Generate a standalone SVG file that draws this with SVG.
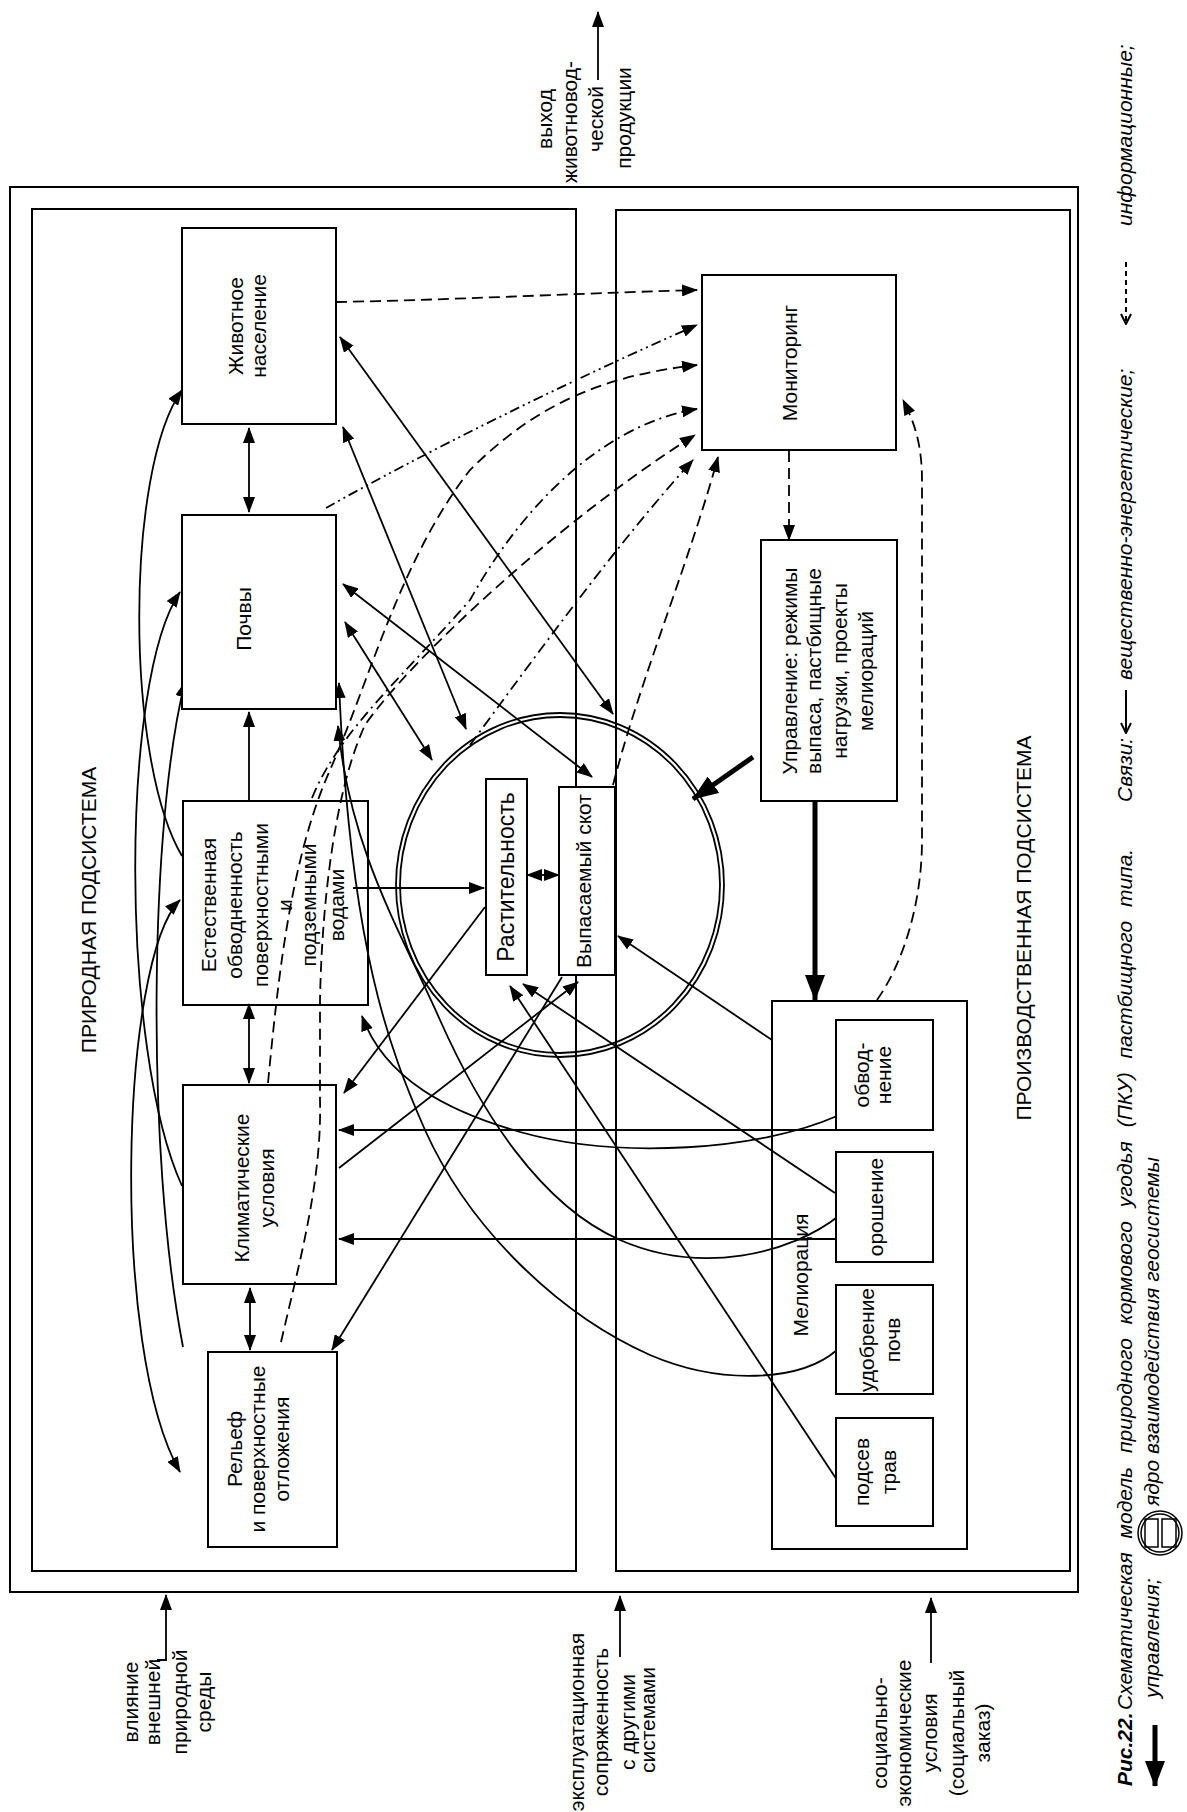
<svg xmlns="http://www.w3.org/2000/svg" width="1187" height="1812" viewBox="0 0 1187 1812">
<style>
.t{font-family:"Liberation Sans",Arial,sans-serif;font-size:21px;fill:#000}
.c{text-anchor:middle}
.s{text-anchor:start}
.i{font-style:italic}
.b{font-weight:bold}
.box{fill:#fff;stroke:#000;stroke-width:2}
.frm{fill:none;stroke:#000;stroke-width:2}
.ln{fill:none;stroke:#000;stroke-width:1.8}
.d{stroke-dasharray:11 6}
.dd{stroke-dasharray:11 5 2 5}
.ddd{stroke-dasharray:10 4 2 4 2 4}
.thick{fill:none;stroke:#000;stroke-width:5}
</style>
<defs>
<marker id="ah" viewBox="0 0 16 12" refX="15" refY="6" markerWidth="16" markerHeight="12" markerUnits="userSpaceOnUse" orient="auto-start-reverse"><path d="M0,0 L16,6 L0,12 z" fill="#000"/></marker>
<marker id="ahb" viewBox="0 0 26 20" refX="25" refY="10" markerWidth="26" markerHeight="20" markerUnits="userSpaceOnUse" orient="auto"><path d="M0,0 L26,10 L0,20 z" fill="#000"/></marker>
<marker id="av" viewBox="0 0 12 12" refX="11" refY="6" markerWidth="12" markerHeight="12" markerUnits="userSpaceOnUse" orient="auto"><path d="M1,1 L11,6 L1,11" fill="none" stroke="#000" stroke-width="2"/></marker>
</defs>
<rect width="1187" height="1812" fill="#fff"/>

<g id="frames">
<rect class="frm" x="10" y="187" width="1068" height="1405"/>
<rect class="frm" x="32" y="209" width="544" height="1362"/>
<rect class="frm" x="616" y="210" width="454" height="1361"/>
</g>

<g id="titles">
<text class="t c" x="96" y="910" transform="rotate(-90 96 910)">ПРИРОДНАЯ ПОДСИСТЕМА</text>
<text class="t c" x="1031" y="928" transform="rotate(-90 1031 928)">ПРОИЗВОДСТВЕННАЯ ПОДСИСТЕМА</text>
</g>

<g id="connectors">
<!-- vertical links between natural components -->
<path class="ln" d="M249,428 L249,512" marker-start="url(#ah)" marker-end="url(#ah)"/>
<path class="ln" d="M249,800 L249,712" marker-end="url(#ah)"/>
<path class="ln" d="M249,1004 L249,1083" marker-start="url(#ah)" marker-end="url(#ah)"/>
<path class="ln" d="M250,1288 L250,1350" marker-start="url(#ah)" marker-end="url(#ah)"/>
<!-- left arcs -->
<path class="ln" d="M182,390 C125,470 125,760 182,856" marker-start="url(#ah)"/>
<path class="ln" d="M180,592 C120,680 120,1050 182,1186" marker-start="url(#ah)"/>
<path class="ln" d="M185,682 C150,820 145,1150 183,1347" marker-start="url(#ah)"/>
<path class="ln" d="M180,900 C120,960 110,1350 180,1472" marker-start="url(#ah)" marker-end="url(#ah)"/>
<!-- links with the core -->
<path class="ln" d="M340,337 L613,714" marker-start="url(#ah)" marker-end="url(#ah)"/>
<path class="ln" d="M343,427 L466,729" marker-start="url(#ah)" marker-end="url(#ah)"/>
<path class="ln" d="M343,584 L592,777" marker-start="url(#ah)" marker-end="url(#ah)"/>
<path class="ln" d="M345,622 L432,760" marker-start="url(#ah)" marker-end="url(#ah)"/>
<path class="ln" d="M353,888 L484,888" marker-end="url(#ah)"/>
<path class="ln" d="M527,875 L559,875" marker-start="url(#ah)" marker-end="url(#ah)"/>
<path class="ln" d="M485,907 L344,1093" marker-end="url(#ah)"/>
<path class="ln" d="M339,1168 L578,982" marker-end="url(#ah)"/>
<path class="ln" d="M562,977 L332,1350" marker-end="url(#ah)"/>
<!-- from melioration -->
<path class="ln" d="M837,1130 L339,1130" marker-end="url(#ah)"/>
<path class="ln" d="M837,1239 L339,1239" marker-end="url(#ah)"/>
<path class="ln" d="M837,1480 L510,986" marker-end="url(#ah)"/>
<path class="ln" d="M835,1193 L523,984" marker-end="url(#ah)"/>
<path class="ln" d="M772,1040 L618,936" marker-end="url(#ah)"/>
<path class="ln" d="M837,1116 C760,1150 620,1160 520,1132 C450,1112 385,1080 362,1016" marker-end="url(#ah)"/>
<path class="ln" d="M840,1215 C790,1255 700,1275 620,1240 C540,1205 480,1110 440,1020 C400,930 350,850 338,726" marker-end="url(#ah)"/>
<path class="ln" d="M837,1350 C800,1382 720,1385 650,1355 C560,1315 470,1230 425,1130 C390,1050 350,950 339,683" marker-end="url(#ah)"/>
<!-- information links to monitoring -->
<path class="ln d" d="M336,302 C450,300 560,294 697,290" marker-end="url(#ah)"/>
<path class="ln ddd" d="M326,508 C420,455 560,385 697,325" marker-end="url(#ah)"/>
<path class="ln d" d="M268,1083 C278,980 290,860 330,770 C370,680 400,560 470,470 C540,400 610,375 697,365" marker-end="url(#ah)"/>
<path class="ln dd" d="M312,798 C340,730 400,680 470,600 C520,510 600,425 697,409" marker-end="url(#ah)"/>
<path class="ln d" d="M281,1342 C300,1260 322,1180 320,1100 L320,1000 C322,900 335,790 365,725 C410,660 560,520 695,435" marker-end="url(#ah)"/>
<path class="ln dd" d="M470,745 C540,650 620,540 693,460" marker-end="url(#ah)"/>
<path class="ln d" d="M613,785 C640,680 690,560 718,457" marker-end="url(#ah)"/>
<path class="ln d" d="M877,1000 C905,960 922,900 922,840 L922,480 C922,440 912,418 903,400" marker-end="url(#ah)"/>
<path class="ln d" d="M789,451 L789,540" marker-end="url(#ah)"/>
<!-- control links -->
<path class="thick" d="M753,757 L693,799" marker-end="url(#ahb)"/>
<path class="thick" d="M815,801 L815,1000" marker-end="url(#ahb)"/>
</g>

<g id="core">
<ellipse cx="560" cy="885" rx="164" ry="172" fill="none" stroke="#000" stroke-width="1.8"/>
<ellipse cx="560" cy="885" rx="160" ry="168" fill="none" stroke="#000" stroke-width="1.8"/>
</g>

<g id="n-zhivotnoe">
<rect class="box" x="182" y="228" width="154" height="196"/>
<text class="t c" x="243" y="326" transform="rotate(-90 243 326)">Животное</text>
<text class="t c" x="266" y="326" transform="rotate(-90 266 326)">население</text>
</g>
<g id="n-pochvy">
<rect class="box" x="182" y="515" width="154" height="194"/>
<text class="t c" x="251" y="619" transform="rotate(-90 251 619)">Почвы</text>
</g>
<g id="n-obvodnennost">
<rect class="box" x="183" y="801" width="185" height="204" fill-opacity="0"/>
<text class="t c" x="216" y="905" transform="rotate(-90 216 905)">Естественная</text>
<text class="t c" x="242" y="905" transform="rotate(-90 242 905)">обводненность</text>
<text class="t c" x="268" y="905" transform="rotate(-90 268 905)">поверхностными</text>
<text class="t c" x="292" y="905" transform="rotate(-90 292 905)">и</text>
<text class="t c" x="316" y="905" transform="rotate(-90 316 905)">подземными</text>
<text class="t c" x="344" y="905" transform="rotate(-90 344 905)">водами</text>
</g>
<g id="n-klimat">
<rect class="box" x="183" y="1085" width="153" height="199" fill-opacity="0"/>
<text class="t c" x="249" y="1188" transform="rotate(-90 249 1188)">Климатические</text>
<text class="t c" x="274" y="1188" transform="rotate(-90 274 1188)">условия</text>
</g>
<g id="n-relief">
<rect class="box" x="208" y="1352" width="129" height="195"/>
<text class="t c" x="242" y="1449" transform="rotate(-90 242 1449)">Рельеф</text>
<text class="t c" x="265" y="1449" transform="rotate(-90 265 1449)">и поверхностные</text>
<text class="t c" x="289" y="1449" transform="rotate(-90 289 1449)">отложения</text>
</g>
<g id="n-rastitelnost">
<rect class="box" x="486" y="779" width="41" height="196"/>
<text class="t c" x="514" y="877" transform="rotate(-90 514 877)" style="font-size:23px">Растительность</text>
</g>
<g id="n-skot">
<rect class="box" x="559" y="787" width="56" height="188"/>
<text class="t c" x="591" y="881" transform="rotate(-90 591 881)">Выпасаемый скот</text>
</g>
<g id="n-monitoring">
<rect class="box" x="702" y="275" width="194" height="175"/>
<text class="t c" x="797" y="363" transform="rotate(-90 797 363)">Мониторинг</text>
</g>
<g id="n-upravlenie">
<rect class="box" x="761" y="540" width="136" height="261"/>
<text class="t c" x="797" y="671" transform="rotate(-90 797 671)">Управление: режимы</text>
<text class="t c" x="821" y="671" transform="rotate(-90 821 671)">выпаса, пастбищные</text>
<text class="t c" x="847" y="671" transform="rotate(-90 847 671)">нагрузки, проекты</text>
<text class="t c" x="873" y="671" transform="rotate(-90 873 671)">мелиораций</text>
</g>
<g id="n-melioracia">
<rect class="box" x="772" y="1001" width="195" height="548" fill-opacity="0"/>
<text class="t c" x="808" y="1275" transform="rotate(-90 808 1275)">Мелиорация</text>
</g>
<g id="n-obvodnenie">
<rect class="box" x="836" y="1020" width="97" height="110"/>
<text class="t c" x="869" y="1075" transform="rotate(-90 869 1075)">обвод-</text>
<text class="t c" x="891" y="1075" transform="rotate(-90 891 1075)">нение</text>
</g>
<g id="n-oroshenie">
<rect class="box" x="836" y="1152" width="97" height="110"/>
<text class="t c" x="883" y="1207" transform="rotate(-90 883 1207)">орошение</text>
</g>
<g id="n-udobrenie">
<rect class="box" x="836" y="1285" width="97" height="109"/>
<text class="t c" x="874" y="1340" transform="rotate(-90 874 1340)">удобрение</text>
<text class="t c" x="900" y="1340" transform="rotate(-90 900 1340)">почв</text>
</g>
<g id="n-podsev">
<rect class="box" x="836" y="1418" width="97" height="108"/>
<text class="t c" x="869" y="1472" transform="rotate(-90 869 1472)">подсев</text>
<text class="t c" x="896" y="1472" transform="rotate(-90 896 1472)">трав</text>
</g>

<g id="n-output">
<text class="t c" x="552" y="119" transform="rotate(-90 552 119)">выход</text>
<text class="t c" x="577" y="122" transform="rotate(-90 577 122)">животновод-</text>
<text class="t c" x="603" y="119" transform="rotate(-90 603 119)">ческой</text>
<text class="t c" x="631" y="118" transform="rotate(-90 631 118)">продукции</text>
<path class="ln" d="M598,80 L598,12" stroke-width="2" marker-end="url(#ah)"/>
</g>
<g id="n-vliyanie">
<text class="t c" x="138" y="1702" transform="rotate(-90 138 1702)">влияние</text>
<text class="t c" x="160" y="1702" transform="rotate(-90 160 1702)">внешней</text>
<text class="t c" x="187" y="1702" transform="rotate(-90 187 1702)">природной</text>
<text class="t c" x="211" y="1702" transform="rotate(-90 211 1702)">среды</text>
<path class="ln" d="M157,1660 L166,1660 L166,1595" stroke-width="2" marker-end="url(#ah)"/>
</g>
<g id="n-ekspl">
<text class="t c" x="584" y="1722" transform="rotate(-90 584 1722)">эксплуатационная</text>
<text class="t c" x="608" y="1722" transform="rotate(-90 608 1722)">сопряженность</text>
<text class="t c" x="635" y="1722" transform="rotate(-90 635 1722)">с другими</text>
<text class="t c" x="655" y="1720" transform="rotate(-90 655 1720)">системами</text>
<path class="ln" d="M620,1657 L620,1596" stroke-width="2" marker-end="url(#ah)"/>
</g>
<g id="n-social">
<text class="t c" x="887" y="1733" transform="rotate(-90 887 1733)">социально-</text>
<text class="t c" x="911" y="1733" transform="rotate(-90 911 1733)">экономические</text>
<text class="t c" x="937" y="1733" transform="rotate(-90 937 1733)">условия</text>
<text class="t c" x="964" y="1733" transform="rotate(-90 964 1733)">(социальный</text>
<text class="t c" x="990" y="1733" transform="rotate(-90 990 1733)">заказ)</text>
<path class="ln" d="M931,1663 L931,1598" stroke-width="2" marker-end="url(#ah)"/>
</g>

<g id="caption">
<text class="t s i b" x="1132" y="1786" transform="rotate(-90 1132 1786)">Рис.22.</text>
<text class="t s i" x="1132" y="1710" transform="rotate(-90 1132 1710)" word-spacing="8">Схематическая модель природного кормового угодья (ПКУ) пастбищного типа.</text>
<text class="t s i" x="1132" y="802" transform="rotate(-90 1132 802)">Связи:</text>
<path d="M1126,690 L1126,733" fill="none" stroke="#000" stroke-width="2" marker-end="url(#av)"/>
<text class="t s i" x="1132" y="680" transform="rotate(-90 1132 680)">вещественно-энергетические;</text>
<path d="M1126,262 L1126,324" fill="none" stroke="#000" stroke-width="2" stroke-dasharray="5 4" marker-end="url(#av)"/>
<text class="t s i" x="1132" y="226" transform="rotate(-90 1132 226)">информационные;</text>
<path d="M1155,1725 L1155,1786" fill="none" stroke="#000" stroke-width="5" marker-end="url(#ahb)"/>
<text class="t s i" x="1159" y="1698" transform="rotate(-90 1159 1698)">управления;</text>
<g id="legend-core">
<ellipse cx="1160" cy="1533" rx="22" ry="22" fill="none" stroke="#000" stroke-width="1.5"/>
<ellipse cx="1160" cy="1533" rx="19" ry="19" fill="none" stroke="#000" stroke-width="1.5"/>
<rect x="1145" y="1519" width="13" height="28" fill="none" stroke="#000" stroke-width="1.5"/>
<rect x="1162" y="1519" width="14" height="28" fill="none" stroke="#000" stroke-width="1.5"/>
</g>
<text class="t s i" x="1159" y="1506" transform="rotate(-90 1159 1506)">ядро взаимодействия геосистемы</text>
</g>
</svg>
